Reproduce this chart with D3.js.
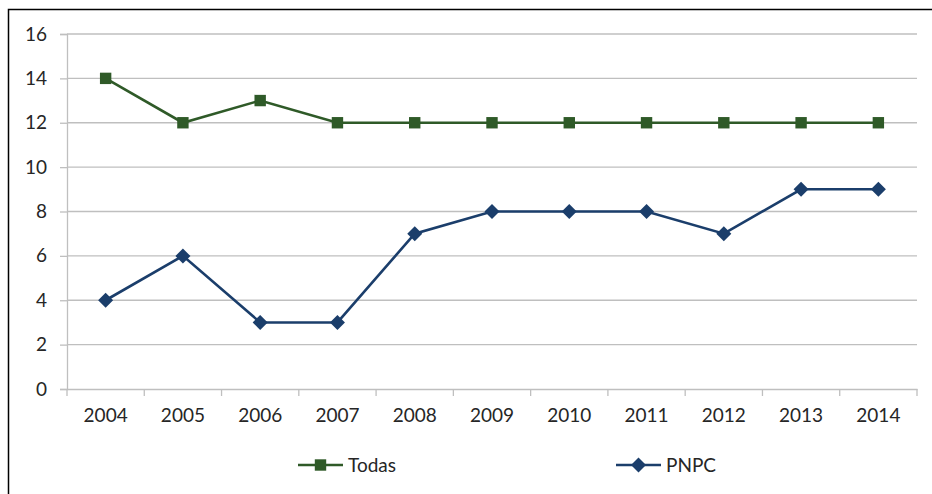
<!DOCTYPE html>
<html><head><meta charset="utf-8">
<script src="https://cdn.jsdelivr.net/npm/d3@7"></script>
<style>body{margin:0;background:#fff}svg{display:block}text{font-family:Lato,"Open Sans",sans-serif;fill:#262626}</style>
</head><body><svg id="c" width="932" height="494"></svg>
<script>
const years = ["2004","2005","2006","2007","2008","2009","2010","2011","2012","2013","2014"];
const todas = [14,12,13,12,12,12,12,12,12,12,12];
const pnpc = [4,6,3,3,7,8,8,8,7,9,9];
const yTicks = [0,2,4,6,8,10,12,14,16];
const seriesNames = ["Todas","PNPC"];
const colors = ["#2f5a28","#1b3e6b"];
const fs = "19px";

const svg = d3.select("#c");
svg.append("path").attr("d","M8.5,494 V9.5 H932").attr("fill","none").attr("stroke","#000").attr("stroke-width",1.5);

const x = d3.scaleBand().domain(years).range([67,917]);
const y = d3.scaleLinear().domain([0,16]).range([389,34]);

const yAxis = d3.axisLeft(y).tickValues(yTicks).tickSize(7).tickPadding(13);
const gy = svg.append("g").attr("transform","translate(67,0)").call(yAxis);
gy.select(".domain").attr("stroke","#bfbfbf").attr("stroke-width",1.3);
gy.selectAll(".tick line").attr("stroke","#bfbfbf").attr("stroke-width",1.3);
gy.selectAll(".tick text").style("font-size",fs).attr("fill","#262626");
svg.append("g").selectAll("line").data(yTicks.filter(d=>d>0)).join("line")
  .attr("x1",67).attr("x2",917).attr("y1",d=>y(d)).attr("y2",d=>y(d))
  .attr("stroke","#bfbfbf").attr("stroke-width",1.3);

const xAxis = d3.axisBottom(x).tickSize(0).tickPadding(20);
const gx = svg.append("g").attr("transform","translate(0,389)").call(xAxis);
gx.select(".domain").attr("stroke","#bfbfbf").attr("stroke-width",1.3);
gx.selectAll(".tick text").style("font-size",fs).attr("fill","#262626");
const bounds = years.map(d=>x(d)).concat([x(years[years.length-1])+x.bandwidth()]);
svg.append("g").selectAll("line").data(bounds).join("line")
  .attr("x1",d=>d).attr("x2",d=>d).attr("y1",389).attr("y2",396)
  .attr("stroke","#bfbfbf").attr("stroke-width",1.3);

const cx = d=>x(d)+x.bandwidth()/2;
const line = d3.line().x(d=>cx(d.yr)).y(d=>y(d.v));
const sq = d3.symbol().type(d3.symbolSquare).size(130);
function diamondPath(s){return `M0,${-s}L${s},0L0,${s}L${-s},0Z`;}

[todas,pnpc].forEach((vals,i)=>{
  const data = vals.map((v,j)=>({yr:years[j],v}));
  svg.append("path").datum(data).attr("d",line).attr("fill","none")
    .attr("stroke",colors[i]).attr("stroke-width",2.6);
  svg.append("g").selectAll("path").data(data).join("path")
    .attr("transform",d=>`translate(${cx(d.yr)},${y(d.v)})`)
    .attr("d",i===0?sq():diamondPath(7.5)).attr("fill",colors[i]);
});

const legX = [298,616];
seriesNames.forEach((n,i)=>{
  const g = svg.append("g").attr("transform",`translate(${legX[i]},465)`);
  g.append("line").attr("x1",0).attr("x2",45).attr("stroke",colors[i]).attr("stroke-width",2.6);
  g.append("path").attr("transform","translate(22.5,0)").attr("d",i===0?sq():diamondPath(7.5)).attr("fill",colors[i]);
  g.append("text").attr("x",50).attr("y",7).style("font-size",fs).text(n);
});
</script></body></html>
